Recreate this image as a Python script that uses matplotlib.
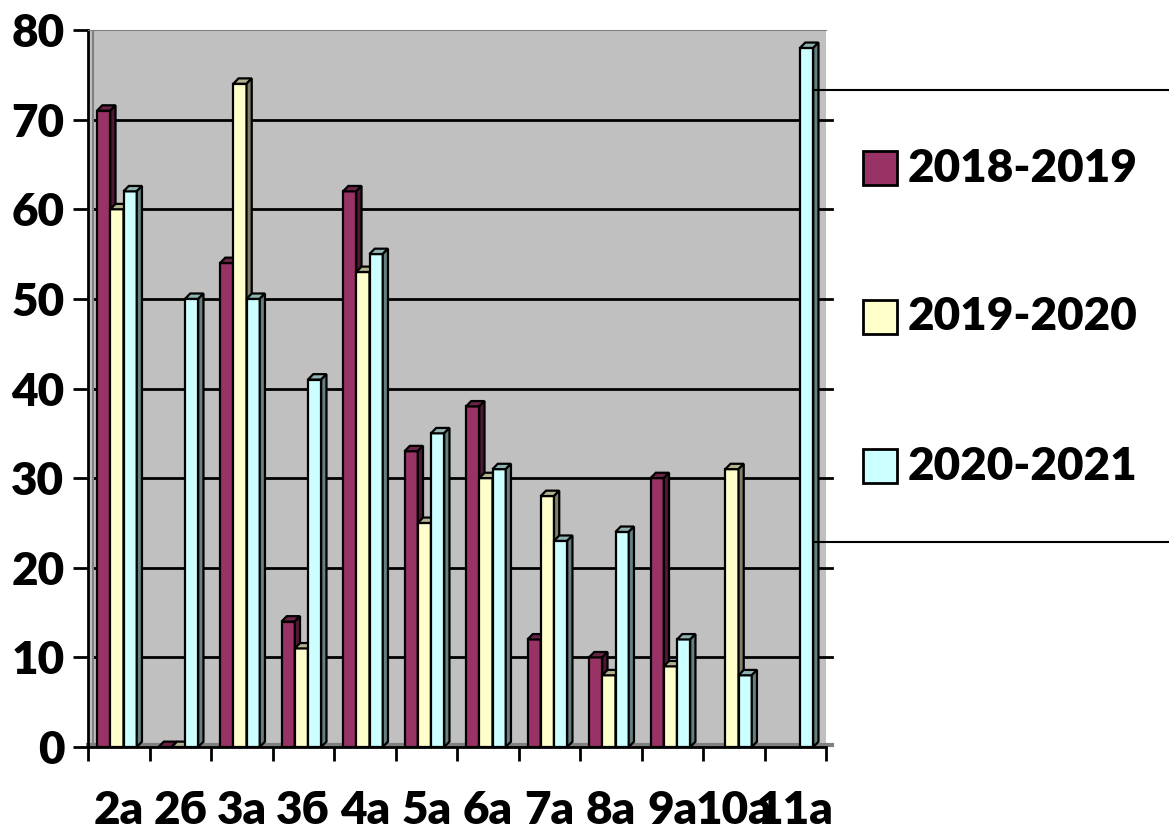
import numpy as np
import matplotlib.pyplot as plt
from matplotlib.patches import Rectangle

plt.rcParams['font.family'] = ['Lato', 'DejaVu Sans']
plt.rcParams['font.weight'] = 'heavy'

classes = ['2а', '2б', '3а', '3б', '4а', '5а', '6а', '7а', '8а', '9а', '10а', '11а']
series = ['2018-2019', '2019-2020', '2020-2021']
y2018 = [71, 0, 54, 14, 62, 33, 38, 12, 10, 30, np.nan, np.nan]
y2019 = [60, 0, 74, 11, 53, 25, 30, 28, 8, 9, 31, np.nan]
y2020 = [62, 50, 50, 41, 55, 35, 31, 23, 24, 12, 8, 78]

front = ['#993366', '#FFFFCC', '#CCFFFF']
top = ['#6B2347', '#B3B38F', '#8FB3B3']
side = ['#4D1933', '#80806A', '#668080']

fig = plt.figure(figsize=(11.69, 8.31), dpi=100)
ax = fig.add_axes([88 / 1169, 84 / 831, 738 / 1169, 717 / 831])
ax.set_facecolor('#C0C0C0')

x = np.arange(len(classes))
w = 0.215
dx, dy = 0.085, 0.6

# grid on the back wall
for g in range(10, 80, 10):
    ax.plot([-0.5 + dx, 11.6], [g, g], color='black', lw=2, zorder=1, clip_on=False)
# left wall edge and floor
ax.plot([-0.5 + dx, -0.5 + dx], [dy, 80], color='#808080', lw=1.5, zorder=1)
ax.plot([-0.5, 11.6], [0.2, 0.2], color='#808080', lw=3, zorder=1, clip_on=False)

z = 2
for i in range(len(classes)):
    for k, vals in enumerate([y2018, y2019, y2020]):
        v = vals[i]
        if np.isnan(v):
            continue
        x0 = x[i] - 0.03 + (k - 1) * w - w / 2
        x1 = x0 + w
        ax.bar(x0, v, width=w, align='edge', color=front[k], edgecolor='black',
               lw=1.6, zorder=z)
        ax.fill([x0, x0 + dx, x1 + dx, x1], [v, v + dy, v + dy, v],
                facecolor=top[k], edgecolor='black', lw=1.6, zorder=z)
        ax.fill([x1, x1 + dx, x1 + dx, x1], [0, dy, v + dy, v],
                facecolor=side[k], edgecolor='black', lw=1.6, zorder=z)
        z += 1

ax.set_xlim(-0.5, 11.5)
ax.set_ylim(0, 80)

ax.set_yticks(range(0, 81, 10))
ax.tick_params(axis='y', length=11, width=2, pad=6, labelsize=33)

ax.set_xticks(np.arange(-0.5, 12, 1))
ax.set_xticklabels([])
ax.set_xticks(x, minor=True)
ax.set_xticklabels(classes, minor=True)
ax.tick_params(axis='x', which='major', length=10, width=2)
ax.tick_params(axis='x', which='minor', length=0, pad=31, labelsize=33)

ax.spines['left'].set_linewidth(2)
ax.spines['bottom'].set_linewidth(2)
ax.spines['top'].set_color('#808080')
ax.spines['right'].set_visible(False)

# legend box, running off the right edge
fig.patches.append(Rectangle((813 / 1169, 1 - 542 / 831), 0.4, 452 / 831,
                             transform=fig.transFigure, fill=False,
                             edgecolor='black', lw=1.5, zorder=50))
for k, name in enumerate(series):
    yc = 1 - (168 + k * 149) / 831
    fig.patches.append(Rectangle((863 / 1169, yc - 17 / 831), 34 / 1169, 34 / 831,
                                 transform=fig.transFigure, facecolor=front[k],
                                 edgecolor='black', lw=2, zorder=51))
    fig.text(908 / 1169, yc, name, fontsize=33, fontweight='heavy', va='center',
             ha='left')

fig.savefig('out.png', dpi=100)
